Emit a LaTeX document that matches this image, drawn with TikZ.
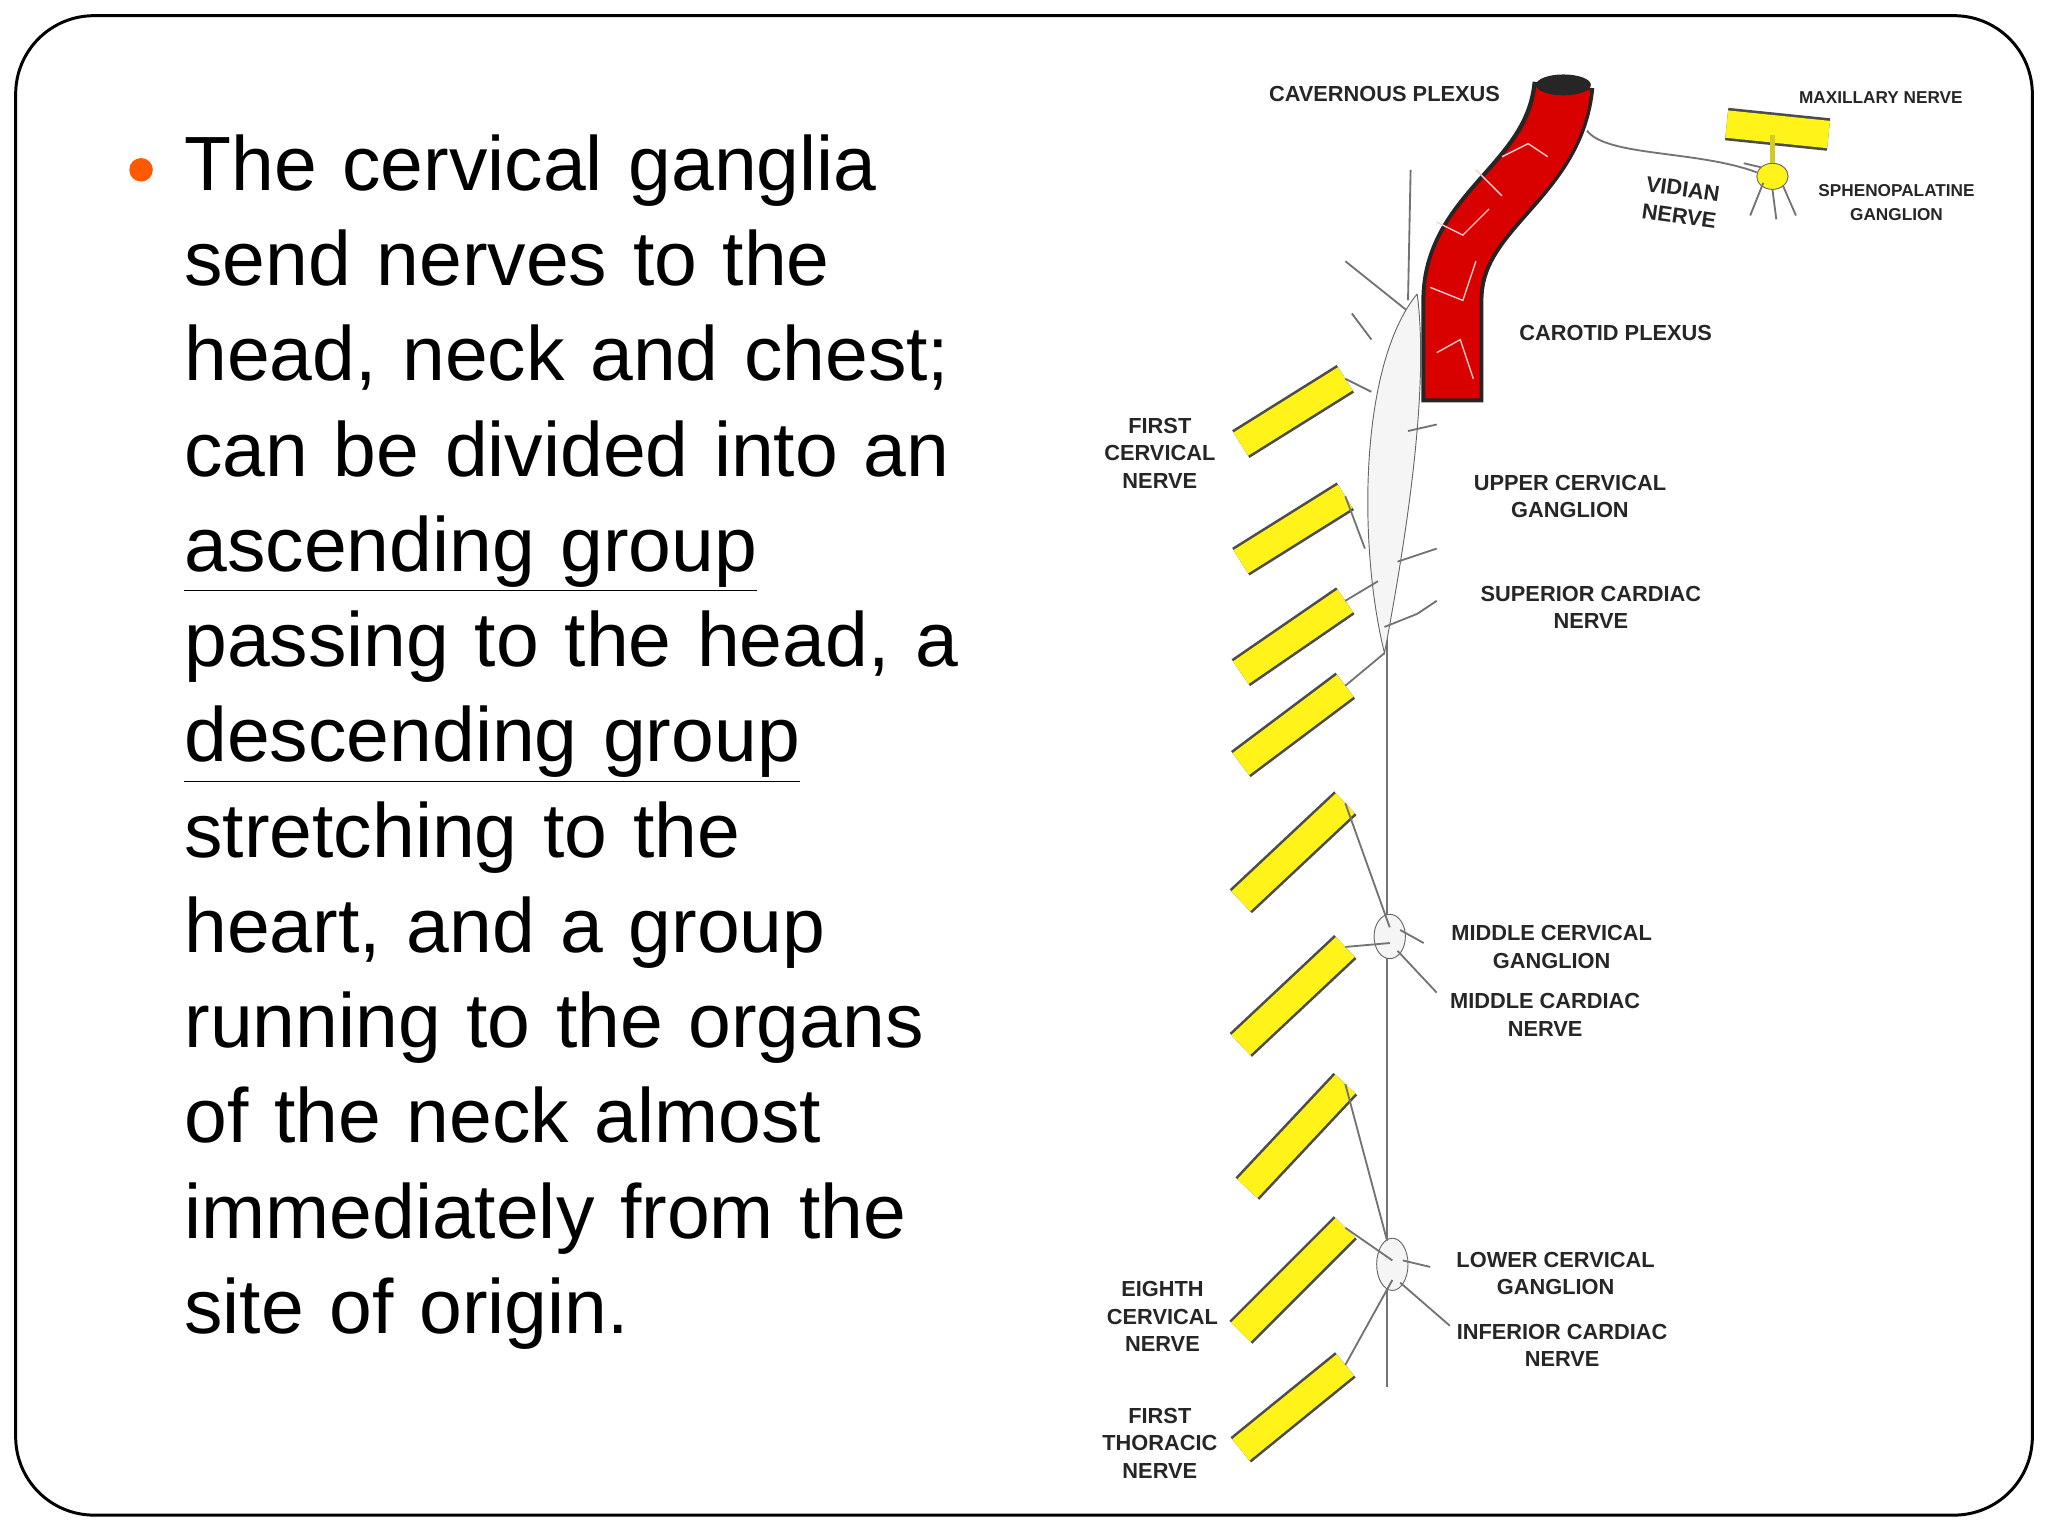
\documentclass[tikz,border=0pt]{standalone}
\usepackage{fontspec}
\setmainfont{Liberation Sans}
\begin{document}
\begin{tikzpicture}[x=0.02cm,y=-0.02cm,
  lab/.style={font=\fontsize{9.5}{12}\selectfont\bfseries, align=center, text=black!85},
  body/.style={font=\fontsize{33.5}{41.5}\selectfont, anchor=north west, align=left, text width=20cm},
  twig/.style={draw=black!55, line width=0.8pt}]
\useasboundingbox (0,0) rectangle (1568,1176);
\draw[line width=1.3pt, rounded corners=1.2cm] (12,12) rectangle (1556,1160);
\fill[orange!70!red] (108,130) circle (9);
\node[body] (txt) at (135,97) {The cervical ganglia\\send nerves to the\\head, neck and chest;\\can be divided into an\\\underline{ascending group}\\passing to the head, a\\\underline{descending group}\\stretching to the\\heart, and a group\\running to the organs\\of the neck almost\\immediately from the\\site of origin.};
% trunk
\draw[twig, line width=1.2pt] (1062,480) -- (1062,1062);
\draw[twig] (1080,240) -- (1030,200);
\draw[twig] (1078,230) -- (1080,130);
\draw[twig] (1050,260) -- (1035,240);
% upper ganglion
\filldraw[fill=black!4, draw=black!60] (1085,225) .. controls (1040,280) and (1040,420) .. (1060,500) .. controls (1075,420) and (1095,300) .. (1085,225);
\draw[twig] (1060,480) -- (1085,470) -- (1100,460);
\draw[twig] (1070,430) -- (1100,420);
\draw[twig] (1078,330) -- (1100,325);
% middle & lower ganglia
\filldraw[fill=black!4, draw=black!60] (1064,717) ellipse (12 and 17);
\filldraw[fill=black!4, draw=black!60] (1066,968) ellipse (12 and 20);
\draw[twig] (1072,712) -- (1090,722); \draw[twig] (1070,728) -- (1100,760);
\draw[twig] (1074,965) -- (1095,970); \draw[twig] (1072,982) -- (1110,1015);
% artery
\draw[line width=0.95cm, black!85] (1197,65) .. controls (1190,140) and (1112,160) .. (1112,230) -- (1112,308);
\draw[line width=0.83cm, red!85!black] (1197,67) .. controls (1190,140) and (1112,160) .. (1112,230) -- (1112,305);
\fill[black!85] (1197,65) ellipse (21 and 8);
\draw[white!80!red, line width=0.6pt] (1100,170) -- (1120,180) -- (1140,160) (1095,220) -- (1120,230) -- (1130,200) (1100,270) -- (1118,260) -- (1128,290) (1150,120) -- (1170,110) -- (1185,120) (1130,130) -- (1150,150);
% yellow nerves
\foreach \a/\b/\c/\d [count=\i] in {950/340/1030/290, 950/430/1030/380, 950/515/1030/460, 950/585/1030/525, 950/690/1030/615, 950/800/1030/725, 955/910/1030/830, 950/1020/1030/940, 950/1110/1030/1045}{
  \draw[line width=0.5cm, black!70] (\a,\b) -- (\c,\d);
  \draw[line width=0.42cm, yellow!90!white] (\a,\b) -- (\c,\d);
  \coordinate (n\i) at (\c,\d);
}
\draw[twig] (n1) -- (1050,300); \draw[twig] (n2) -- (1045,420); \draw[twig] (n3) -- (1055,445);
\draw[twig] (n4) -- (1060,500); \draw[twig] (n5) -- (1064,710); \draw[twig] (n6) -- (1064,722);
\draw[twig] (n7) -- (1062,950); \draw[twig] (n8) -- (1066,965); \draw[twig] (n9) -- (1066,980);
% maxillary & sphenopalatine
\draw[line width=0.5cm, black!70] (1322,95) -- (1400,103);
\draw[line width=0.42cm, yellow!90!white] (1322,95) -- (1400,103);
\filldraw[fill=yellow!90!white, draw=black!60] (1357,135) ellipse (12 and 10);
\draw[twig, line width=2pt, yellow!80!black] (1357,125) -- (1357,103);
\draw[twig] (1215,100) .. controls (1230,120) and (1300,115) .. (1345,132);
\draw[twig] (1350,140) -- (1340,165) (1357,145) -- (1360,168) (1365,142) -- (1375,165) (1348,128) -- (1335,125);
% labels
\node[lab] (l1) at (1060,72) {CAVERNOUS PLEXUS};
\node[lab, font=\fontsize{7.5}{10}\selectfont\bfseries] (l2) at (1440,75) {MAXILLARY NERVE};
\node[lab, rotate=-8] (l3) at (1287,155) {VIDIAN\\NERVE};
\node[lab, font=\fontsize{7.5}{10.5}\selectfont\bfseries] (l4) at (1452,155) {SPHENOPALATINE\\GANGLION};
\node[lab] (l5) at (1237,255) {CAROTID PLEXUS};
\node[lab] (l6) at (888,347) {FIRST\\CERVICAL\\NERVE};
\node[lab] (l7) at (1202,380) {UPPER CERVICAL\\GANGLION};
\node[lab] (l8) at (1218,465) {SUPERIOR CARDIAC\\NERVE};
\node[lab] (l9) at (1188,725) {MIDDLE CERVICAL\\GANGLION};
\node[lab] (l10) at (1183,777) {MIDDLE CARDIAC\\NERVE};
\node[lab] (l11) at (1191,975) {LOWER CERVICAL\\GANGLION};
\node[lab] (l12) at (1196,1030) {INFERIOR CARDIAC\\NERVE};
\node[lab] (l13) at (890,1008) {EIGHTH\\CERVICAL\\NERVE};
\node[lab] (l14) at (888,1105) {FIRST\\THORACIC\\NERVE};
\end{tikzpicture}
\end{document}
